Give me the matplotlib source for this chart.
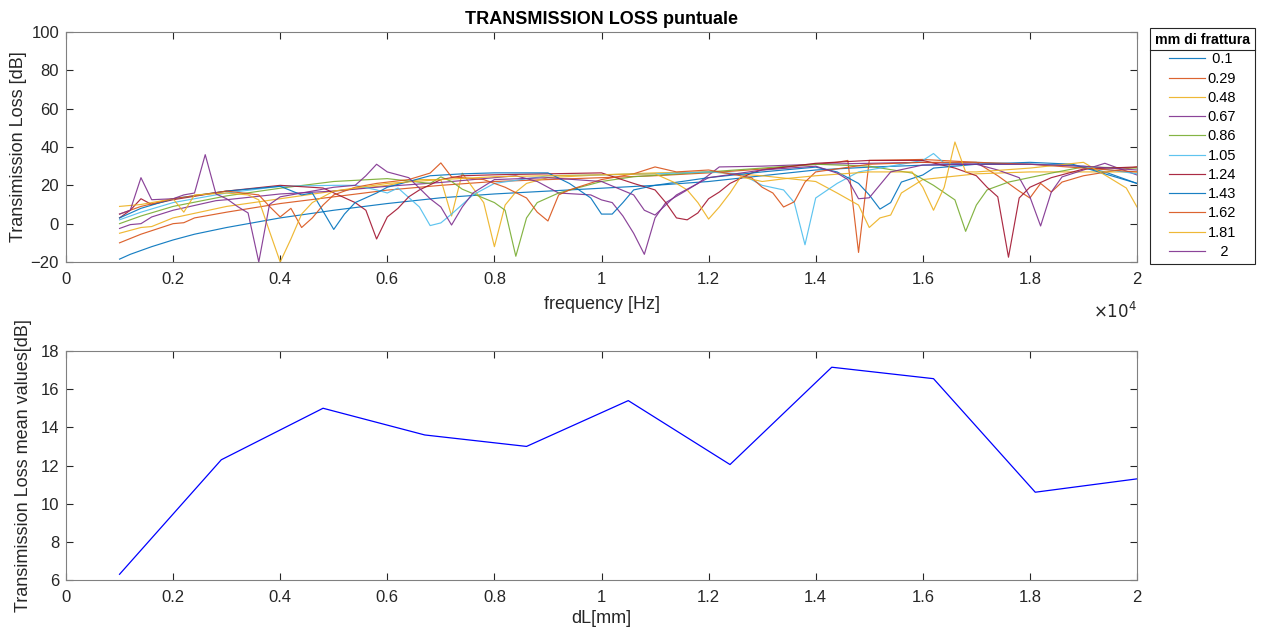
import matplotlib

matplotlib.use("Agg")
import matplotlib.pyplot as plt
from matplotlib.lines import Line2D
from matplotlib.ticker import FixedLocator, FixedFormatter

# ---- data ------------------------------------------------------------------
LEGEND_LABELS = [" 0.1", "0.29", "0.48", "0.67", "0.86", "1.05", "1.24", "1.43", "1.62", "1.81", "   2"]

F01 = [1000, 1200, 1400, 1600, 2000, 2400, 3000, 3600, 4000, 5000, 6000, 7000, 8000, 9000, 10000,
       11000, 12000, 13000, 14000, 15000, 16000, 17000, 18000, 18800, 19400, 20000]
T01 = [-18.5, -16, -14, -12, -8.5, -5.5, -2, 1, 3, 7, 10.5, 13.5, 15.5, 17, 18.5,
       20, 22, 25, 28, 29.5, 30.5, 31, 31, 30.5, 27, 21]

F029 = [1000, 1400, 2000, 2200, 2400, 3000, 4000, 5000, 6000, 7000, 8000, 9000, 10000, 11000, 12000,
        13000, 14000, 14400, 14600, 14800, 15000, 16000, 17000, 17400, 17600, 17800, 18000, 18200,
        18400, 18600, 19000, 20000]
T029 = [-10, -5.5, 0, 0.5, 3, 6, 10.5, 14, 17.5, 20, 22, 23, 24, 25, 26.5,
        28.5, 31, 32, 33, -15, 33, 33.5, 32, 25, 21, 17, 13.4, 21,
        16.5, 21.7, 25, 29.6]

F048 = [1000, 1400, 1600, 2000, 3000, 4000, 5000, 6000, 6600, 7000, 7200, 7400, 7600, 7800, 8000,
        8200, 8400, 8600, 9000, 10000, 11000, 12000, 13000, 14000, 14400, 14800, 15000, 15200,
        15400, 15600, 16000, 17000, 18000, 19000, 20000]
T048 = [-5, -2, -1.5, 3, 9, 13, 17, 20, 23, 23, 4, 26.4, 18.6, 11, -12,
        9.7, 16.5, 21, 24, 25.5, 26.5, 27, 25, 22, 16, 9.7, -2, 3,
        4.5, 16, 23, 26, 27, 27, 27]

F067 = [1000, 1200, 1400, 1600, 2000, 2800, 3000, 4000, 5000, 6000, 7000, 8000, 8400, 8800, 9200,
        9800, 10000, 10200, 10400, 10600, 10800, 11000, 11200, 11600, 11800, 12200, 13000, 14000,
        15000, 16000, 17000, 17400, 17800, 18000, 18200, 18400, 18600, 19000, 19400, 20000]
T067 = [-2.5, -0.5, 0, 3.5, 7, 12, 12.5, 15.5, 17, 19.5, 21.5, 24, 25, 22, 16,
        15, 12.4, 11, 4, -5, -16, 3, 11, 17.6, 21, 29.6, 30, 31,
        31.5, 32, 31, 28, 24, 14, -1.2, 16.5, 24.4, 28, 31.5, 25.4]

F086 = [1000, 1400, 2000, 3000, 4000, 5000, 6000, 6800, 7000, 7200, 7400, 8000, 8200, 8400, 8600,
        8800, 9200, 9600, 10000, 10600, 12000, 13000, 14000, 15000, 15800, 16200, 16600, 16800,
        17000, 17200, 17600, 18400, 19000, 20000]
T086 = [0, 4, 9, 14.5, 18.5, 22, 23.5, 21, 24.4, 22, 18, 11, 7, -17, 3,
        11, 16, 19, 22, 24.5, 27, 29, 31, 30, 26.4, 20, 12.4, -4,
        9.7, 17.6, 21.7, 26.4, 29.6, 29]

F105 = [1000, 1400, 2000, 3000, 4000, 5000, 5400, 5800, 6000, 6200, 6600, 6800, 7000, 7200, 7400,
        7600, 8000, 9000, 10000, 11000, 12000, 12600, 13000, 13400, 13600, 13800, 14000, 14400,
        14800, 15600, 16000, 16200, 16400, 17000, 18000, 19000, 20000]
T105 = [2, 6, 11, 16, 19.5, 20, 20, 17.6, 16, 18.6, 8.7, -1, 0.4, 5, 10,
        15, 21, 25, 25.5, 26, 27, 26, 20, 17.6, 11, -11, 13.4, 21,
        27, 31, 33, 36.6, 31.6, 32, 31, 30, 26]

F124 = [1000, 1200, 1400, 1600, 2000, 3000, 4000, 4800, 5400, 5600, 5800, 6000, 6200, 6400, 6600,
        7000, 7400, 8000, 9000, 10000, 10600, 11000, 11200, 11400, 11600, 11800, 12000, 12200,
        12400, 12800, 13000, 14000, 15000, 16000, 16600, 17000, 17200, 17400, 17600, 17800, 18000,
        18400, 19000, 20000]
T124 = [3, 7, 13, 10, 12.5, 17, 20, 18.6, 11, 7, -8, 3.5, 8, 14, 17.6,
        23, 25, 25.5, 26, 26.5, 21, 17.6, 11, 3, 2, 5.6, 13, 16.5,
        21, 26.4, 28, 31.5, 33, 33, 29, 25, 19, 14, -17.5, 13.4, 19,
        24, 28.5, 29.6]

F143 = [1000, 1400, 2000, 3000, 4000, 4400, 4600, 5000, 5200, 5400, 5800, 6000, 6400, 6800, 7400,
        8000, 9000, 9400, 9800, 10000, 10200, 10400, 10600, 11000, 12000, 13000, 14000, 14400,
        14800, 15000, 15200, 15400, 15600, 16000, 16200, 17000, 18000, 18800, 20000]
T143 = [3, 8, 13, 17, 19.5, 15, 16, -3, 5, 11, 16, 19, 22, 25, 26,
        26.5, 26.5, 21, 13.4, 5, 5, 11, 17.6, 20, 24, 27, 29.5, 27,
        21, 15, 7.6, 11, 21.7, 25.4, 29, 31, 32, 31, 21]

F162 = [1000, 1400, 2000, 3000, 3600, 3800, 4000, 4200, 4400, 4600, 4800, 5000, 5400, 5800, 6400,
        6800, 7000, 7200, 7400, 7800, 8200, 8600, 8800, 9000, 9200, 9400, 10000, 10600, 11000,
        11400, 12000, 12800, 13000, 13200, 13400, 13600, 13800, 14000, 15000, 16000, 17000, 18000,
        19000, 20000]
T162 = [5, 9, 13, 17, 15, 9, 3.5, 8, -2, 3, 9.7, 15, 19, 21, 23,
        26.4, 31.7, 24.4, 24, 23, 19, 13.4, 6, 1.4, 15, 17.6, 23, 26, 29.6,
        27, 28, 24, 19, 16, 8.7, 11.4, 21.7, 27, 31, 32, 32, 31,
        29, 27]

F181 = [1000, 1400, 1800, 2000, 2200, 2400, 3000, 3400, 3600, 3800, 4000, 4200, 4400, 4600, 5000,
        6000, 7000, 8000, 9000, 10000, 11000, 11400, 11600, 11800, 12000, 12200, 12400, 12600,
        13000, 13400, 14000, 15000, 15800, 16000, 16200, 16400, 16600, 16800, 17000, 18000, 19000,
        19400, 19800, 20000]
T181 = [9, 10, 12, 13, 6, 15, 16, 15, 12.4, -4, -20, -8, 5, 11, 17,
        21, 23, 24.5, 25, 25.5, 26, 21, 17.6, 11, 2.4, 8.7, 16, 24.4,
        22, 23.4, 25, 27, 27, 19, 7, 19, 42.6, 27, 27, 29, 32,
        25.4, 18.6, 8.7]

F2 = [1000, 1200, 1400, 1600, 2000, 2200, 2400, 2600, 2800, 3000, 3200, 3400, 3600, 3800, 4000,
      5000, 5400, 5600, 5800, 6000, 6400, 6800, 7000, 7200, 7400, 7600, 8000, 9000, 10000, 10600,
      10800, 11000, 11400, 12000, 13000, 14000, 14400, 14600, 14800, 15000, 15400, 16000, 17000,
      18000, 19000, 20000]
T2 = [5, 7, 24, 12.5, 13, 15, 16, 36, 15.5, 13, 9, 5.6, -20, 10, 14,
      19, 20, 25, 31, 27, 24, 13, 8.7, -0.7, 8.7, 16, 23, 24, 22, 15,
      7, 4.5, 15, 24, 28, 30, 26.4, 23, 13, 13.5, 27, 30.6, 31,
      31, 30, 28]

FREQS = [F01, F029, F048, F067, F086, F105, F124, F143, F162, F181, F2]
LOSSES = [T01, T029, T048, T067, T086, T105, T124, T143, T162, T181, T2]

DL_MM = [0.1, 0.29, 0.48, 0.67, 0.86, 1.05, 1.24, 1.43, 1.62, 1.81, 2.0]
TL_MEAN = [6.3, 12.3, 15.0, 13.6, 13.0, 15.4, 12.05, 17.15, 16.55, 10.6, 11.3]

FREQ_TICKS = [0, 2000, 4000, 6000, 8000, 10000, 12000, 14000, 16000, 18000, 20000]
FREQ_TICK_LABELS = ["0", "0.2", "0.4", "0.6", "0.8", "1", "1.2", "1.4", "1.6", "1.8", "2"]
DL_TICKS = [0, 0.2, 0.4, 0.6, 0.8, 1.0, 1.2, 1.4, 1.6, 1.8, 2.0]
DL_TICK_LABELS = ["0", "0.2", "0.4", "0.6", "0.8", "1", "1.2", "1.4", "1.6", "1.8", "2"]

MATLAB_COLORS = ["#0072BD", "#D95319", "#EDB120", "#7E2F8E", "#77AC30", "#4DBEEE", "#A2142F"]
AXIS_GREY = "#262626"

STYLE = {
    "font.family": ["Liberation Sans", "DejaVu Sans"],
    "font.size": 12,
    "axes.edgecolor": AXIS_GREY,
    "axes.linewidth": 0.8,
    "xtick.color": AXIS_GREY,
    "ytick.color": AXIS_GREY,
    "xtick.direction": "in",
    "ytick.direction": "in",
    "xtick.top": True,
    "ytick.right": True,
    "xtick.labelsize": 12,
    "ytick.labelsize": 12,
    "xtick.major.size": 5,
    "ytick.major.size": 5,
    "xtick.major.pad": 7,
    "ytick.major.pad": 5,
}


def style_axis(axis):
    for spine in axis.spines.values():
        spine.set_color("#808080")


with plt.rc_context(STYLE):
    fig = plt.figure(figsize=(12.63, 6.32), dpi=100)
    ax_top = fig.add_axes([66 / 1263, 1 - 262 / 632, 1071 / 1263, 230 / 632])
    ax_bot = fig.add_axes([66 / 1263, 1 - 580 / 632, 1071 / 1263, 229 / 632])

    handles = []
    for idx, (freq, loss) in enumerate(zip(FREQS, LOSSES)):
        (line,) = ax_top.plot(freq, loss, color=MATLAB_COLORS[idx % 7], linewidth=0.85, alpha=0.9)
        handles.append(line)

    ax_top.set_xlim(0, 20000)
    ax_top.set_ylim(-20, 100)
    ax_top.xaxis.set_major_locator(FixedLocator(FREQ_TICKS))
    ax_top.xaxis.set_major_formatter(FixedFormatter(FREQ_TICK_LABELS))
    ax_top.set_yticks([-20, 0, 20, 40, 60, 80, 100])
    ax_top.set_xlabel("frequency [Hz]", fontsize=13, color=AXIS_GREY, labelpad=7)
    ax_top.set_ylabel("Transimission Loss [dB]", fontsize=13, color=AXIS_GREY, labelpad=3)
    ax_top.set_title("TRANSMISSION LOSS puntuale", fontsize=13, fontweight="bold", pad=6)
    ax_top.text(1.0, -0.17, r"$\times10^{4}$", transform=ax_top.transAxes,
                ha="right", va="top", fontsize=12, color=AXIS_GREY)

    leg = ax_top.legend(handles, LEGEND_LABELS, title="mm di frattura",
                        loc="upper left", bbox_to_anchor=(1.012, 1.017),
                        fontsize=10.5, title_fontsize=10.2, frameon=True, fancybox=False,
                        edgecolor=AXIS_GREY, framealpha=1, handlelength=2.5,
                        handletextpad=0.15, labelspacing=0.36, borderpad=0.35,
                        borderaxespad=0)
    leg.get_frame().set_linewidth(0.8)
    leg.get_title().set_fontweight("bold")

    ax_bot.plot(DL_MM, TL_MEAN, color="#0000FF", linewidth=0.9)
    ax_bot.set_xlim(0, 2)
    ax_bot.set_ylim(6, 18)
    ax_bot.xaxis.set_major_locator(FixedLocator(DL_TICKS))
    ax_bot.xaxis.set_major_formatter(FixedFormatter(DL_TICK_LABELS))
    ax_bot.set_yticks([6, 8, 10, 12, 14, 16, 18])
    ax_bot.set_xlabel("dL[mm]", fontsize=13, color=AXIS_GREY, labelpad=4)
    ax_bot.set_ylabel("Transimission Loss mean values[dB]", fontsize=13, color=AXIS_GREY, labelpad=6)

    for axis in (ax_top, ax_bot):
        style_axis(axis)

    # separator line under the legend title, as in the reference
    fig.canvas.draw()
    frame_box = leg.get_frame().get_window_extent()
    title_box = leg.get_title().get_window_extent()
    sep_y = title_box.y0 - 3
    fig.add_artist(Line2D([frame_box.x0 / fig.bbox.width, frame_box.x1 / fig.bbox.width],
                          [sep_y / fig.bbox.height, sep_y / fig.bbox.height],
                          color=AXIS_GREY, linewidth=0.8))

    fig.savefig("out.png", dpi=100)
